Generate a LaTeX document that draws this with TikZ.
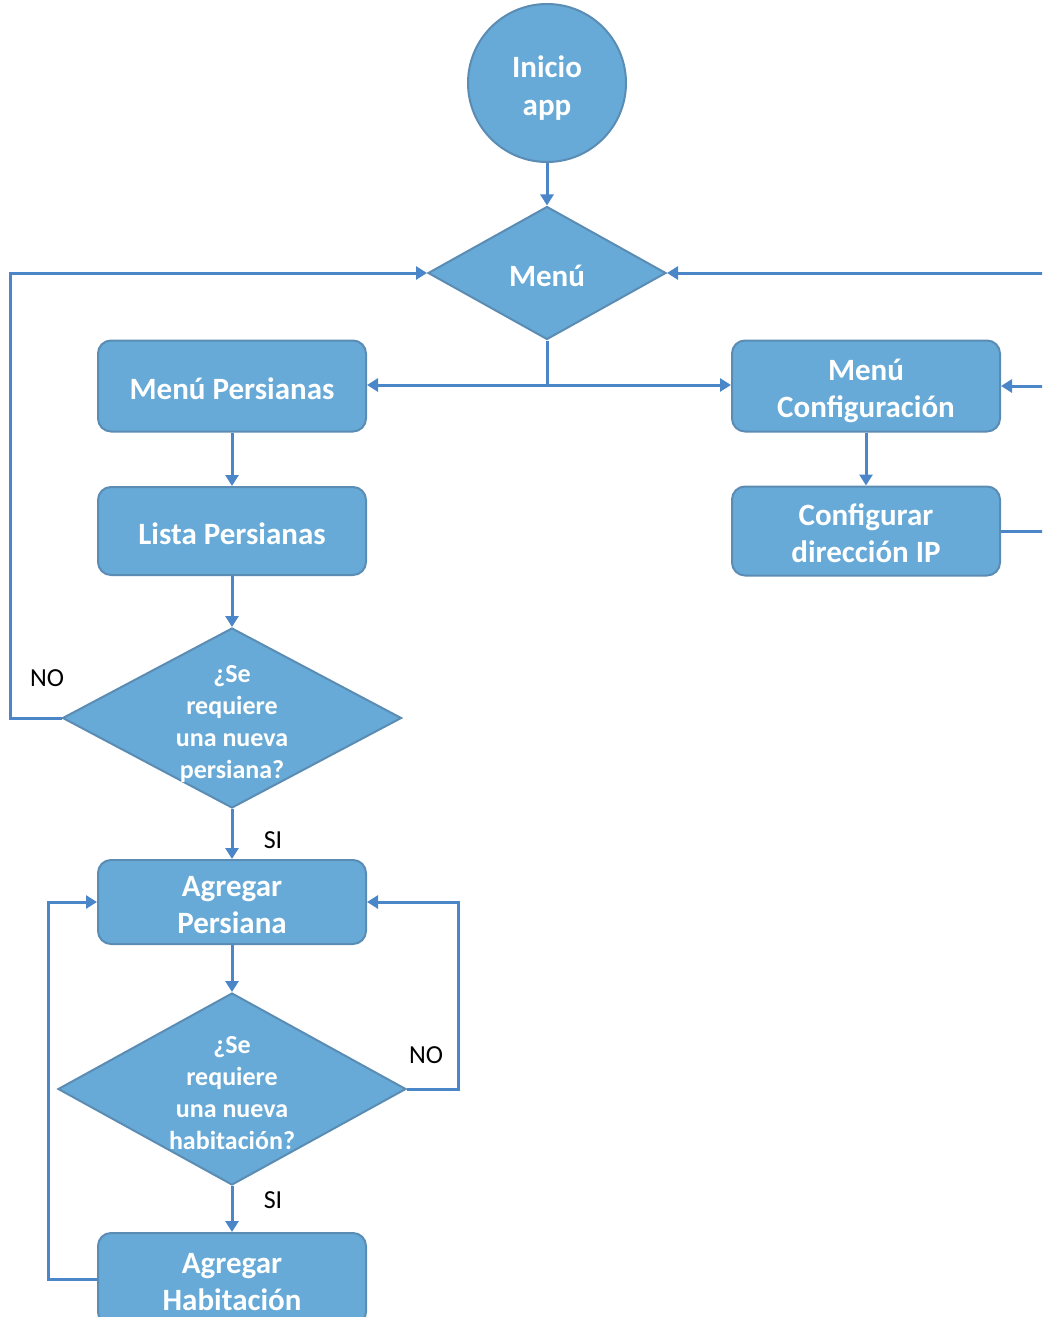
\documentclass[tikz,border=0pt]{standalone}
\usepackage{fontspec}
\setmainfont{Carlito}
\usetikzlibrary{shapes.geometric,arrows.meta}
\definecolor{boxfill}{HTML}{67AAD7}
\definecolor{boxedge}{HTML}{5A8CB4}
\definecolor{flow}{HTML}{4A86C8}
% centred block of lines, drawn a little below the node centre
\newcommand{\ctext}[1]{\raisebox{-6pt}[\height][\depth]{\begin{tabular}{@{}c@{}}#1\end{tabular}}}
\begin{document}
\begin{tikzpicture}[x=1pt,y=-1pt,
  stepbox/.style={draw=boxedge, line width=2pt, fill=boxfill, rounded corners=13pt,
    minimum width=268pt, inner sep=0pt, text=white,
    font=\fontsize{31}{37}\selectfont\bfseries},
  decision/.style={diamond, draw=boxedge, line width=2pt, fill=boxfill, inner sep=0pt,
    text=white, font=\fontsize{31}{37}\selectfont\bfseries},
  dtext/.style={text=white, font=\fontsize{26}{32}\selectfont\bfseries},
  startnode/.style={circle, draw=boxedge, line width=2pt, fill=boxfill, minimum size=158pt,
    inner sep=0pt, text=white, font=\fontsize{31}{38}\selectfont\bfseries},
  flowline/.style={draw=flow, line width=3pt},
  arr/.style={flowline, -{Triangle[length=11pt,width=13pt]}},
  tag/.style={text=black, font=\fontsize{26}{30}\selectfont}
]
\useasboundingbox (0,0) rectangle (1042,1317);
\clip (0,0) rectangle (1042,1317);

% main column
\node[startnode] (start) at (547,83) {\ctext{Inicio\\app}};
\node[decision, minimum width=238pt, minimum height=133pt] (menu) at (547,273) {\ctext{Menú}};

% blinds branch
\node[stepbox, minimum height=91pt] (mp) at (232,386) {\ctext{Menú Persianas}};
\node[stepbox, minimum height=88pt] (lp) at (232,531) {\ctext{Lista Persianas}};
\node[decision, minimum width=339pt, minimum height=180pt] (q1) at (232,718) {};
\node[dtext] (q1t) at (q1) {\ctext{¿Se\\requiere\\una nueva\\persiana?}};
\node[stepbox, minimum height=84pt] (ap) at (232,902) {\ctext{Agregar\\Persiana}};
\node[decision, minimum width=348pt, minimum height=192pt] (q2) at (232,1089) {};
\node[dtext] (q2t) at (q2) {\ctext{¿Se\\requiere\\una nueva\\habitación?}};
\node[stepbox, minimum height=92pt] (ah) at (232,1279) {\ctext{Agregar\\Habitación}};

% settings branch
\node[stepbox, minimum height=91pt] (mc) at (866,386) {\ctext{Menú\\Configuración}};
\node[stepbox, minimum height=89pt] (cfg) at (866,531) {\ctext{Configurar\\dirección IP}};

% connector points
\coordinate (split) at (547,385);
\coordinate (eR1) at (1050,273);
\coordinate (eR2) at (1050,386);
\coordinate (eR3) at (1050,531);

% connectors
\draw[arr] (start) -- (menu);
\draw[flowline] (menu.south) -- (split);
\draw[arr] (split) -- (split -| mp.east);
\draw[arr] (split) -- (split -| mc.west);
\draw[arr] (mp) -- (lp);
\draw[arr] (lp) -- (q1);
\draw[arr] (q1.west) -- ++(-51,0) |- (menu.west);
\draw[arr] (q1) -- (ap);
\draw[arr] (ap) -- (q2);
\draw[arr] (q2.east) -- ++(51,0) |- (ap.east);
\draw[arr] (q2) -- (ah);
\draw[arr] (ah.west) -- ++(-49,0) |- (ap.west);
\draw[arr] (mc) -- (cfg);
\draw[arr] (eR1) -- (menu.east);
\draw[arr] (eR2) -- (mc.east);
\draw[flowline] (cfg.east) -- (eR3);

% branch labels
\node[tag] (no1) at (47,678) {NO};
\node[tag] (si1) at (273,840) {SI};
\node[tag] (no2) at (426,1055) {NO};
\node[tag] (si2) at (273,1200) {SI};
\end{tikzpicture}
\end{document}
